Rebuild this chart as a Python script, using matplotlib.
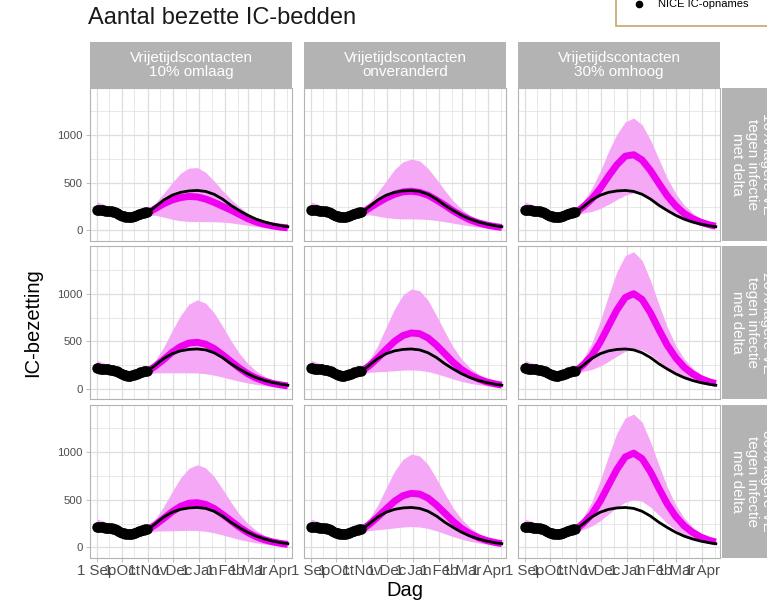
import matplotlib
matplotlib.use('Agg')
import matplotlib.pyplot as plt
import matplotlib.dates as mdates
from matplotlib.patches import Rectangle
from datetime import date, timedelta

plt.rcParams['font.family'] = ['Liberation Sans', 'DejaVu Sans']

# ---------------- data ----------------
start = date(2021, 9, 1)
day_offsets = [0, 10, 20, 30, 40, 50, 60, 70, 80, 90, 100, 110, 120, 130, 140,
               150, 160, 170, 180, 190, 200, 210, 220, 228]
nice_offsets = list(range(0, 62, 2))
nice_values = [219, 217, 215, 213, 211, 209, 207, 205, 203, 201, 199, 193, 185, 175,
               165, 156, 148, 142, 139, 138, 140, 144, 150, 156, 162, 168, 174, 180,
               185, 189, 193]

ref_line = [215, 205, 195, 170, 148, 150, 180, 250, 320, 370, 400, 415, 420, 410,
            380, 330, 265, 210, 160, 120, 90, 67, 50, 40]

prefix_med = [215, 205, 195, 170, 148, 150, 180]
prefix_up = [300, 270, 240, 205, 175, 178, 210]
prefix_lo = [165, 165, 160, 145, 128, 130, 155]

col_labels = ["Vrijetijdscontacten\n10% omlaag", "Vrijetijdscontacten\nonveranderd",
              "Vrijetijdscontacten\n30% omhoog"]
row_labels = ["10% lagere VE\ntegen infectie\nmet delta",
              "20% lagere VE\ntegen infectie\nmet delta",
              "30% lagere VE\ntegen infectie\nmet delta"]

med_r1 = [[230, 280, 320, 345, 357, 352, 330, 295, 255, 215, 170, 125, 90, 65, 47, 34, 28],
          [235, 290, 340, 380, 405, 412, 400, 370, 320, 265, 205, 155, 112, 80, 57, 41, 32],
          [250, 330, 440, 570, 690, 780, 795, 740, 630, 495, 365, 260, 180, 125, 87, 60, 45]]
up_r1 = [[290, 390, 500, 600, 655, 660, 610, 520, 420, 330, 250, 185, 135, 98, 70, 52, 42],
         [295, 400, 520, 640, 720, 750, 730, 650, 540, 420, 310, 225, 160, 115, 82, 60, 47],
         [310, 440, 620, 830, 1010, 1140, 1180, 1110, 950, 750, 550, 390, 270, 185, 128, 88, 66]]
lo_r1 = [[160, 140, 118, 102, 95, 93, 93, 92, 88, 80, 68, 55, 43, 33, 25, 19, 16],
         [165, 150, 135, 125, 122, 122, 120, 115, 105, 92, 77, 62, 48, 37, 28, 21, 17],
         [185, 200, 230, 275, 325, 370, 395, 385, 340, 275, 205, 148, 105, 74, 52, 37, 29]]

med_r2 = [[240, 310, 385, 445, 482, 490, 470, 425, 360, 290, 220, 160, 115, 82, 58, 42, 32],
          [245, 325, 415, 500, 560, 588, 580, 535, 460, 370, 280, 205, 148, 105, 74, 53, 41],
          [255, 350, 490, 660, 830, 960, 1000, 940, 800, 625, 460, 330, 230, 160, 110, 76, 57]]
up_r2 = [[300, 440, 610, 770, 890, 935, 900, 800, 660, 510, 375, 270, 190, 135, 95, 68, 53],
         [305, 455, 650, 840, 985, 1050, 1030, 930, 770, 600, 440, 315, 222, 157, 110, 78, 60],
         [320, 480, 710, 980, 1230, 1400, 1440, 1350, 1140, 890, 650, 460, 320, 220, 152, 105, 79]]
lo_r2 = [[170, 170, 170, 170, 170, 168, 160, 145, 125, 103, 82, 63, 48, 36, 27, 20, 16],
         [175, 180, 185, 192, 198, 200, 196, 182, 160, 133, 105, 80, 60, 45, 33, 24, 19],
         [185, 205, 240, 290, 345, 395, 420, 410, 360, 290, 218, 158, 112, 79, 56, 40, 31]]

med_r3 = [[238, 305, 375, 432, 465, 470, 452, 410, 348, 282, 215, 158, 114, 81, 58, 42, 32],
          [243, 320, 405, 485, 543, 568, 560, 518, 446, 360, 274, 200, 145, 103, 73, 52, 40],
          [255, 348, 485, 653, 820, 950, 990, 932, 795, 622, 458, 328, 229, 160, 110, 76, 57]]
up_r3 = [[300, 430, 585, 730, 830, 868, 835, 745, 615, 478, 352, 255, 180, 128, 90, 65, 51],
         [303, 445, 625, 800, 925, 980, 960, 870, 722, 565, 415, 298, 210, 149, 105, 75, 58],
         [320, 478, 700, 960, 1200, 1360, 1400, 1315, 1110, 868, 635, 450, 313, 216, 149, 103, 77]]
lo_r3 = [[172, 174, 176, 178, 180, 178, 170, 154, 132, 108, 85, 65, 49, 37, 27, 20, 16],
         [178, 186, 195, 205, 215, 220, 215, 200, 175, 145, 114, 87, 65, 48, 35, 26, 21],
         [190, 225, 280, 350, 420, 475, 500, 485, 425, 340, 255, 184, 130, 92, 65, 46, 35]]

medians = [med_r1, med_r2, med_r3]
uppers = [up_r1, up_r2, up_r3]
lowers = [lo_r1, lo_r2, lo_r3]

y_ticks = [0, 500, 1000]

# ---------------- layout ----------------
W, H = 767, 602
fig = plt.figure(figsize=(W / 100, H / 100), dpi=100)


def add_px(l, t, w, h):
    return fig.add_axes([l / W, 1 - (t + h) / H, w / W, h / H])


dates = [start + timedelta(days=d) for d in day_offsets]
nice_dates = [start + timedelta(days=d) for d in nice_offsets]

col_left = [90, 304, 518]
panel_w = 202
row_top = [88, 246.5, 405]
panel_h = 152.5
strip_top, strip_h = 42, 46
grey70 = '#B3B3B3'
grid_col = '#DEDEDE'
txt_col = '#4D4D4D'
band_col = '#F5A8F5'
mag = '#F000F0'

for r in range(3):
    for c in range(3):
        ax = add_px(col_left[c], row_top[r], panel_w, panel_h)
        med = prefix_med + medians[r][c]
        up = prefix_up + uppers[r][c]
        lo = prefix_lo + lowers[r][c]
        ax.fill_between(dates, lo, up, color=band_col, lw=0, zorder=2)
        ax.plot(dates, med, color=mag, lw=5.0, solid_capstyle='butt', zorder=3)
        ax.plot(dates, ref_line, color='black', lw=2.0, zorder=4)
        ax.plot(nice_dates, nice_values, 'o', color='black', ms=7.5, mew=0, zorder=5)

        ax.set_xlim(start - timedelta(days=8), start + timedelta(days=233))
        ax.set_ylim(-105, 1495)
        ax.xaxis.set_major_locator(mdates.MonthLocator())
        ax.xaxis.set_minor_locator(mdates.MonthLocator(bymonthday=16))
        ax.xaxis.set_major_formatter(mdates.DateFormatter('%-d %b'))
        ax.set_yticks(y_ticks)
        ax.set_yticks([250, 750, 1250], minor=True)
        ax.grid(which='major', color=grid_col, lw=0.9, zorder=0)
        ax.grid(which='minor', color=grid_col, lw=0.5, zorder=0)
        ax.set_axisbelow(True)
        for s in ax.spines.values():
            s.set_color(grey70)
            s.set_linewidth(0.8)
        ax.tick_params(which='major', color=grey70, length=3, width=0.6,
                       labelsize=8.2, labelcolor=txt_col, pad=2)
        ax.tick_params(axis='x', which='major', labelsize=10.8, pad=1.5)
        ax.tick_params(which='minor', length=0)
        if r < 2:
            ax.tick_params(axis='x', which='major', length=0, labelbottom=False)
        if c > 0:
            ax.tick_params(axis='y', which='major', length=0, labelleft=False)

        # top strip
        if r == 0:
            sax = add_px(col_left[c], strip_top, panel_w, strip_h)
            sax.set_facecolor(grey70)
            sax.set_xticks([]); sax.set_yticks([])
            for s in sax.spines.values():
                s.set_visible(False)
            sax.text(0.5, 0.5, col_labels[c], ha='center', va='center', color='white',
                     fontsize=11, linespacing=1.05, transform=sax.transAxes)
        # right strip
        if c == 2:
            rax = add_px(722, row_top[r], 60, panel_h)
            rax.set_facecolor(grey70)
            rax.set_xticks([]); rax.set_yticks([])
            for s in rax.spines.values():
                s.set_visible(False)
            rax.text(0.5, 0.5, row_labels[r], ha='center', va='center', color='white',
                     fontsize=11, linespacing=1.05, rotation=-90,
                     transform=rax.transAxes)

# titles
fig.text(88 / W, 1 - 18 / H, "Aantal bezette IC-bedden", fontsize=17, ha='left',
         va='center', color='#1A1A1A')
fig.text(33 / W, 1 - 323 / H, "IC-bezetting", fontsize=14.5, rotation=90,
         ha='center', va='center', color='black')
fig.text(405 / W, 1 - 590 / H, "Dag", fontsize=14.5, ha='center', va='center',
         color='black')

# legend box (cut off at the top of the figure)
fig.patches.append(Rectangle((616 / W, 1 - 25.5 / H), 180 / W, 60 / H,
                             transform=fig.transFigure, fill=True, facecolor='white',
                             edgecolor='#C9A66B', lw=1.2))
fig.lines.append(plt.Line2D([639 / W], [1 - 3.5 / H], transform=fig.transFigure,
                            marker='o', color='black', ms=5.5, mew=0))
fig.text(658 / W, 1 - 4 / H, "NICE IC-opnames", fontsize=8, ha='left', va='center',
         color='black')

fig.savefig('out.png', dpi=100, facecolor='white')
